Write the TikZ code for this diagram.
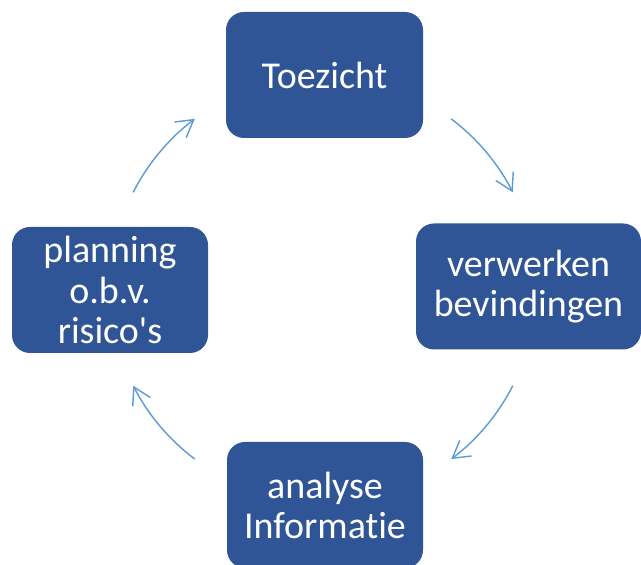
\documentclass[tikz,border=0pt]{standalone}
\usepackage{fontspec}
\setmainfont{Carlito}[Ligatures=NoCommon]
\usetikzlibrary{arrows.meta}
\definecolor{boxblue}{RGB}{47,85,151}
\definecolor{arcblue}{RGB}{91,155,213}
\tikzset{stap/.style = {fill=boxblue, rounded corners=0.45cm, text=white,
                        align=center, inner sep=0pt, minimum height=3.15cm,
                        font=\fontsize{27}{28.5}\selectfont},
         cyc/.style = {draw=arcblue, line width=1pt,
                       -{Straight Barb[length=0.42cm, width=0.49cm]}}}

\begin{document}
\begin{tikzpicture}
    \useasboundingbox (0, 0) rectangle (16.025, 14.125);
    \node [stap, minimum width=4.925cm] (toezicht) at (8.1125, 12.25) {Toezicht};
    \node [stap, minimum width=5.625cm] (verwerken) at (13.2125, 6.9625) {verwerken\\bevindingen};
    \node [stap, minimum width=4.9cm] (analyse) at (8.125, 1.5) {analyse\\Informatie};
    \node [stap, minimum width=4.9cm] (planning) at (2.75, 6.875) {planning\\o.b.v.\\risico\textquotesingle s};
    \coordinate (midden) at (8.075, 6.9);
    \foreach \a/\b in {53/27, -27/-53, -127/-153, 153/127}
      \draw [cyc] ([shift=(\a:5.325)]midden) arc (\a:\b:5.325);
  \end{tikzpicture}
\end{document}
